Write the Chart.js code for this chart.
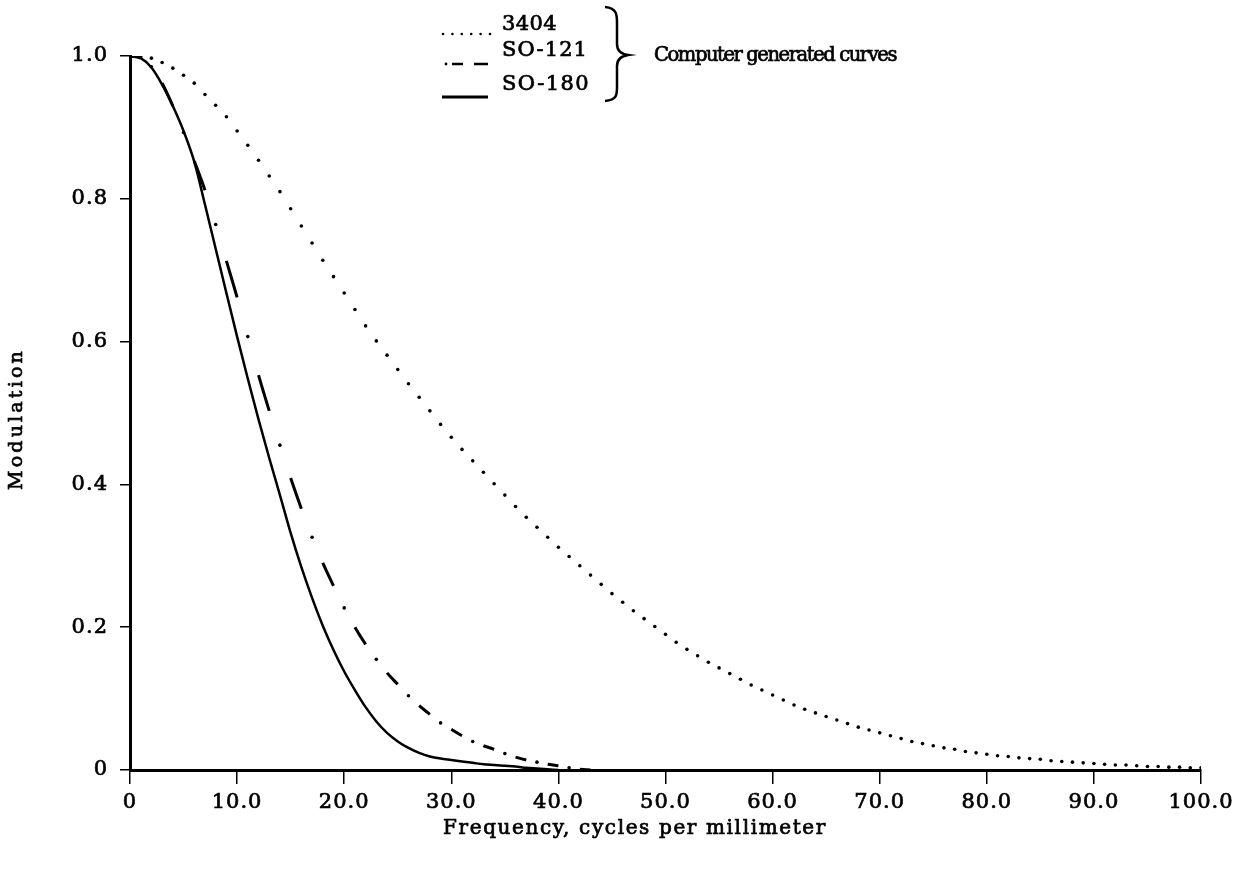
<!DOCTYPE html>
<html lang="en">
<head>
    <meta charset="UTF-8">
    <title>Modulation transfer</title>
    <script src="https://cdn.jsdelivr.net/npm/chart.js"></script>
    <style>
        body {
            margin: 0;
            padding: 0;
            background: #fff;
        }

        .wrap {
            width: 1252px;
            height: 871px;
        }
    </style>
</head>
<body>
    <div class="wrap"><canvas id="mtf"></canvas></div>

    <script>
        // frequency, cycles per millimeter (one sample per cycle/mm)
        const freq = [0, 1, 2, 3, 4, 5, 6, 7, 8, 9, 10, 11, 12, 13, 14, 15, 16, 17, 18, 19,
            20, 21, 22, 23, 24, 25, 26, 27, 28, 29, 30, 31, 32, 33, 34, 35, 36, 37, 38, 39,
            40, 41, 42, 43, 44, 45, 46, 47, 48, 49, 50, 51, 52, 53, 54, 55, 56, 57, 58, 59,
            60, 61, 62, 63, 64, 65, 66, 67, 68, 69, 70, 71, 72, 73, 74, 75, 76, 77, 78, 79,
            80, 81, 82, 83, 84, 85, 86, 87, 88, 89, 90, 91, 92, 93, 94, 95, 96, 97, 98, 99, 100];

        // 3404 (dotted)
        const mod3404 = [1.000, 0.999, 0.997, 0.991, 0.983, 0.973, 0.962, 0.946, 0.931, 0.915,
            0.895, 0.875, 0.854, 0.832, 0.810, 0.786, 0.762, 0.738, 0.714, 0.691,
            0.668, 0.645, 0.622, 0.601, 0.581, 0.561, 0.541, 0.522, 0.503, 0.484,
            0.466, 0.449, 0.433, 0.417, 0.401, 0.385, 0.369, 0.354, 0.340, 0.326,
            0.312, 0.299, 0.286, 0.273, 0.260, 0.247, 0.235, 0.223, 0.212, 0.201,
            0.190, 0.179, 0.169, 0.160, 0.151, 0.143, 0.135, 0.127, 0.119, 0.112,
            0.105, 0.098, 0.091, 0.085, 0.080, 0.075, 0.070, 0.065, 0.060, 0.056,
            0.052, 0.048, 0.044, 0.040, 0.037, 0.034, 0.031, 0.029, 0.026, 0.024,
            0.022, 0.020, 0.019, 0.017, 0.016, 0.015, 0.013, 0.012, 0.011, 0.010,
            0.009, 0.008, 0.007, 0.007, 0.006, 0.005, 0.005, 0.004, 0.004, 0.003, 0.003];

        // SO-121 (dash-dot), 0..43
        const modSO121 = [1.000, 0.997, 0.985, 0.962, 0.930, 0.893, 0.853, 0.812, 0.764, 0.713,
            0.662, 0.607, 0.553, 0.503, 0.455, 0.409, 0.366, 0.326, 0.290, 0.258,
            0.227, 0.200, 0.176, 0.155, 0.136, 0.120, 0.104, 0.090, 0.078, 0.066,
            0.057, 0.048, 0.040, 0.034, 0.029, 0.023, 0.018, 0.014, 0.011, 0.008,
            0.006, 0.003, 0.001, 0.000];

        // SO-180 (solid), 0..40
        const modSO180 = [1.000, 0.997, 0.984, 0.960, 0.930, 0.895, 0.852, 0.792, 0.730, 0.668,
            0.607, 0.548, 0.491, 0.437, 0.385, 0.332, 0.284, 0.241, 0.202, 0.168,
            0.138, 0.112, 0.088, 0.068, 0.052, 0.040, 0.031, 0.024, 0.019, 0.016,
            0.014, 0.012, 0.010, 0.008, 0.007, 0.006, 0.005, 0.003, 0.002, 0.001, 0.000];

        const seriesNames = ["3404", "SO-121", "SO-180"];
        const bracketNote = "Computer generated curves";
        const xTitle = "Frequency, cycles per millimeter";
        const yTitle = "Modulation";

        const FONT = '"DejaVu Serif", serif';

        function pts(ys) {
            return ys.map((y, i) => ({ x: freq[i], y: y }));
        }

        // text stretched to the width it has in the picture
        function fitText(ctx, text, x, y, width, size) {
            ctx.save();
            ctx.font = size + "px " + FONT;
            ctx.letterSpacing = "0px";
            const w = ctx.measureText(text).width;
            ctx.letterSpacing = ((width - w) / text.length) + "px";
            ctx.fillStyle = "#000";
            ctx.strokeStyle = "#000";
            ctx.lineWidth = 0.7;
            ctx.textAlign = "left";
            ctx.textBaseline = "middle";
            ctx.fillText(text, x, y);
            ctx.strokeText(text, x, y);
            ctx.restore();
        }

        const extras = {
            id: "extras",
            beforeDraw(chart) {
                chart.ctx.letterSpacing = "1px";
            },
            afterDraw(chart) {
                const ctx = chart.ctx;
                ctx.save();
                ctx.strokeStyle = "#000";
                ctx.fillStyle = "#000";

                // legend samples
                for (let x = 443; x <= 490; x += 9.4) {
                    ctx.beginPath();
                    ctx.arc(x, 34, 1.3, 0, Math.PI * 2);
                    ctx.fill();
                }
                ctx.lineWidth = 2.5;
                ctx.beginPath();
                ctx.arc(446, 64, 1.4, 0, Math.PI * 2);
                ctx.fill();
                ctx.beginPath();
                ctx.moveTo(452, 64); ctx.lineTo(463, 64);
                ctx.moveTo(474, 64); ctx.lineTo(488, 64);
                ctx.stroke();
                ctx.lineWidth = 3;
                ctx.beginPath();
                ctx.moveTo(442, 97); ctx.lineTo(488, 97);
                ctx.stroke();

                // brace
                ctx.lineWidth = 2.5;
                ctx.beginPath();
                ctx.moveTo(605, 7);
                ctx.bezierCurveTo(618, 8, 617, 16, 617, 26);
                ctx.lineTo(617, 44);
                ctx.bezierCurveTo(617, 51, 621, 54, 628, 55);
                ctx.bezierCurveTo(621, 56, 617, 59, 617, 66);
                ctx.lineTo(617, 84);
                ctx.bezierCurveTo(617, 94, 618, 100, 605, 101);
                ctx.stroke();
                ctx.restore();

                fitText(ctx, seriesNames[0], 502, 25, 55, 21);
                fitText(ctx, seriesNames[1], 502, 51, 86, 21);
                fitText(ctx, seriesNames[2], 502, 85, 88, 21);
                fitText(ctx, bracketNote, 654, 56, 242, 19.5);
                fitText(ctx, xTitle, 443, 829, 384, 20);

                ctx.save();
                ctx.translate(17, 490);
                ctx.rotate(-Math.PI / 2);
                fitText(ctx, yTitle, 0, 0, 142, 19);
                ctx.restore();
            }
        };

        const tickFont = { family: FONT, size: 21 };

        new Chart(document.getElementById("mtf"), {
            type: "line",
            data: {
                datasets: [
                    {
                        label: seriesNames[0],
                        data: pts(mod3404),
                        showLine: false,
                        pointRadius: 1.8,
                        pointBorderWidth: 0,
                        pointBackgroundColor: "#000"
                    },
                    {
                        label: seriesNames[1],
                        data: pts(modSO121),
                        borderColor: "#000",
                        borderWidth: 3,
                        cubicInterpolationMode: "monotone",
                        pointRadius: ctx => (ctx.raw && ctx.raw.x % 3 === 2 ? 1.8 : 0),
                        pointBorderWidth: 0,
                        pointBackgroundColor: "#000",
                        segment: {
                            borderColor: ctx => (ctx.p0.parsed.x % 3 === 0 ? "#000" : "rgba(0,0,0,0)")
                        }
                    },
                    {
                        label: seriesNames[2],
                        data: pts(modSO180),
                        borderColor: "#000",
                        borderWidth: 2.5,
                        cubicInterpolationMode: "monotone",
                        pointRadius: 0
                    }
                ]
            },
            options: {
                responsive: true,
                maintainAspectRatio: false,
                animation: false,
                layout: { padding: { left: 0, top: 56, right: 51, bottom: 0 } },
                plugins: {
                    legend: { display: false },
                    tooltip: { enabled: false }
                },
                scales: {
                    x: {
                        type: "linear",
                        min: 0,
                        max: 100,
                        border: { display: true, color: "#000", width: 3 },
                        grid: { drawOnChartArea: false, drawTicks: true, tickLength: 14, color: "#000", lineWidth: 1.5 },
                        ticks: {
                            stepSize: 10,
                            color: "#000",
                            textStrokeColor: "#000",
                            textStrokeWidth: 0.7,
                            font: tickFont,
                            padding: 6,
                            maxRotation: 0,
                            autoSkip: false,
                            callback: v => (v === 0 ? "0" : v.toFixed(1))
                        },
                        afterFit: s => { s.height = 101; }
                    },
                    y: {
                        min: 0,
                        max: 1,
                        border: { display: true, color: "#000", width: 3 },
                        grid: { drawOnChartArea: false, drawTicks: true, tickLength: 10, color: "#000", lineWidth: 1.5 },
                        ticks: {
                            stepSize: 0.2,
                            color: "#000",
                            textStrokeColor: "#000",
                            textStrokeWidth: 0.7,
                            font: tickFont,
                            padding: 12,
                            callback: v => (v === 0 ? "0" : v.toFixed(1))
                        },
                        afterFit: s => { s.width = 130; }
                    }
                }
            },
            plugins: [extras]
        });
    </script>
</body>
</html>
